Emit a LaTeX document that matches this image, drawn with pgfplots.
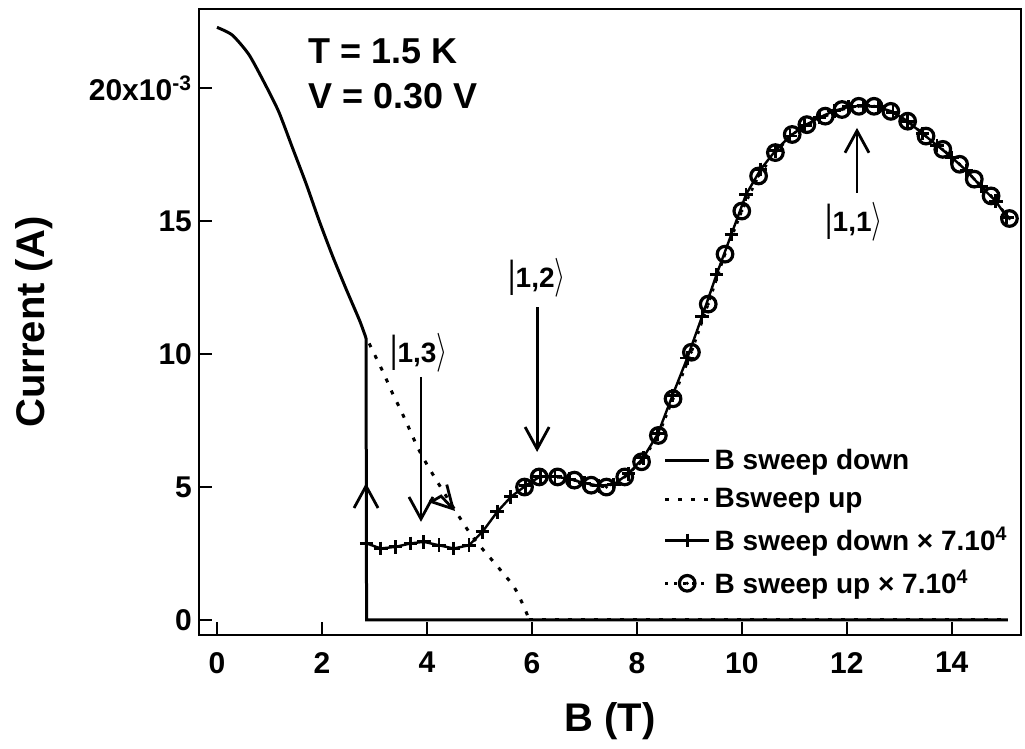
\documentclass[border=0pt]{standalone}
\usepackage{fontspec}
\setmainfont{Liberation Sans}
\usepackage{pgfplots}
\pgfplotsset{compat=1.18}
\usetikzlibrary{arrows.meta}
\pgfdeclareplotmark{odot}{%
  \pgfpathcircle{\pgfpointorigin}{\pgfplotmarksize}\pgfusepathqstroke
  \pgfpathcircle{\pgfpointorigin}{0.9pt}\pgfusepathqfill}
\tikzset{barb/.style={-{Straight Barb[length=11pt,width=12pt,line width=1.4pt]}, line width=1.4pt}}
\newcommand\ket[1]{\scalebox{1}[1.35]{\mdseries|}\mbox{\bfseries #1}\scalebox{1}[1.35]{$\rangle$}}
\begin{document}
\bfseries
\begin{tikzpicture}
\begin{axis}[
  name=ax,
  scale only axis, width=411pt, height=313pt,
  xmin=-0.343, xmax=15.32, ymin=-0.564, ymax=22.98,
  axis line style={line width=1.2pt},
  tick align=inside, tick pos=left,
  major tick length=6.5pt,
  every tick/.style={line width=1.1pt, black},
  xtick={0,2,...,14}, ytick={0,5,10,15,20},
  yticklabels={0,5,10,15,{20x10\textsuperscript{-3}}},
  /pgf/number format/assume math mode=true,
  tick label style={font=\fontsize{15}{15}\selectfont\bfseries},
  xticklabel style={yshift=-5pt},
  legend style={draw=none, fill=none, at={(0.56,0.31)}, anchor=north west,
    font=\fontsize{14}{14}\selectfont\bfseries, row sep=4pt, inner sep=2pt,
    cells={anchor=west}},
  legend image code/.code={\draw[mark repeat=2,mark phase=2,#1] plot coordinates {(0pt,0pt)(11pt,0pt)(22pt,0pt)};},
  clip=false,
]
% B sweep down
\addplot[black, line width=1.5pt, no marks, smooth, tension=0.4] coordinates {
(0,22.29)(0.29,22.0)(0.61,21.26)(0.93,20.1)(1.18,19.1)(1.44,17.75)(1.70,16.4)(1.95,15.0)(2.2,13.7)(2.46,12.45)(2.72,11.25)(2.84,10.6)};
\addlegendentry{B sweep down}
% Bsweep up
\addplot[black, line width=1.5pt, no marks, dash pattern=on 2pt off 4.5pt, smooth, tension=0.5] coordinates {
(2.90,10.4)(3.17,9.3)(3.35,8.5)(3.5,7.9)(3.65,7.25)(3.88,6.27)(4.26,5.0)(4.78,3.38)(5.03,2.74)(5.35,2.0)(5.66,1.24)(5.85,0.49)(5.95,0)};
\addlegendentry{Bsweep up}
% B sweep down x 7e4
\addplot[black, line width=1.2pt, mark=+, mark size=3.4pt, mark options={line width=1.4pt}] coordinates {
(2.85,2.88)(3.12,2.69)(3.40,2.75)(3.69,2.88)(3.94,2.94)(4.23,2.81)(4.51,2.69)(4.80,2.81)(5.06,3.32)(5.34,4.07)(5.6,4.63)
(5.88,5.05)(6.16,5.4)(6.44,5.4)(6.72,5.3)(7.0,5.15)(7.28,5.05)(7.56,5.1)(7.84,5.5)(8.12,6.1)(8.40,7.0)(8.68,8.45)(8.96,9.85)
(9.24,11.4)(9.52,13.0)(9.80,14.5)(10.08,16.0)(10.36,16.95)(10.64,17.65)(10.92,18.2)(11.20,18.6)(11.48,18.9)(11.76,19.15)
(12.04,19.3)(12.32,19.35)(12.60,19.3)(12.88,19.1)(13.16,18.75)(13.44,18.3)(13.72,17.85)(14.00,17.4)(14.28,16.9)(14.56,16.3)
(14.84,15.75)(15.05,15.15)};
\addlegendentry{B sweep down × 7.10\textsuperscript{4}}
% B sweep up x 7e4
\addplot[black, line width=1.3pt, dash pattern=on 1.5pt off 3pt, mark=odot, mark size=3.9pt, mark options={solid, line width=1.6pt}] coordinates {
(5.86,5.0)(6.14,5.38)(6.49,5.38)(6.81,5.26)(7.13,5.07)(7.42,5.0)(7.77,5.38)(8.09,5.95)(8.41,6.94)(8.69,8.32)(9.04,10.07)
(9.36,11.88)(9.68,13.76)(10.0,15.38)(10.32,16.7)(10.64,17.58)(10.96,18.26)(11.24,18.63)(11.59,18.95)(11.91,19.2)(12.23,19.32)
(12.52,19.32)(12.84,19.13)(13.16,18.76)(13.51,18.2)(13.83,17.7)(14.15,17.14)(14.43,16.58)(14.75,15.95)(15.1,15.1)};
\addlegendentry{B sweep up × 7.10\textsuperscript{4}}
% remaining parts of the plain sweeps
\addplot[black, line width=1.5pt, no marks, forget plot] coordinates {(2.84,10.6)(2.85,0)(15.07,0)};
\addplot[black, line width=1.5pt, no marks, dash pattern=on 2pt off 4.5pt, forget plot] coordinates {(5.95,0)(15.07,0)};
% annotations
\node[anchor=north west, inner sep=0pt, align=left, font=\fontsize{18}{22.5}\selectfont\bfseries] at (axis cs:1.73,21.89) {T = 1.5 K\\V = 0.30 V};
\node[inner sep=0pt, font=\fontsize{14}{14}\selectfont\bfseries] at (axis cs:3.85,10.04) {\ket{1,3}};
\node[inner sep=0pt, font=\fontsize{14}{14}\selectfont\bfseries] at (axis cs:6.10,12.86) {\ket{1,2}};
\node[inner sep=0pt, font=\fontsize{14}{14}\selectfont\bfseries] at (axis cs:12.14,14.97) {\ket{1,1}};
\draw[barb] (axis cs:3.887,9.14) -- (axis cs:3.887,3.69);
\draw[barb] (axis cs:6.10,11.77) -- (axis cs:6.10,6.32);
\draw[barb] (axis cs:12.195,16.06) -- (axis cs:12.195,18.51);
\draw[barb] (axis cs:2.84,2.82) -- (axis cs:2.84,5.15);
\draw[barb] (axis cs:4.08,4.44) -- (axis cs:4.27,4.66) -- (axis cs:4.535,4.10);
\end{axis}
\node[rotate=90, anchor=north, inner sep=0pt, font=\fontsize{20}{20}\selectfont\bfseries] at ([xshift=-92pt]ax.west) {Current (A)};
\node[anchor=north, inner sep=0pt, font=\fontsize{20}{20}\selectfont\bfseries] at ([yshift=-33.5pt]ax.south) {B (T)};
\pgfresetboundingbox
\useasboundingbox ([xshift=-99.5pt,yshift=-57pt]ax.south west) rectangle ([xshift=2pt,yshift=4.5pt]ax.north east);
\end{tikzpicture}
\end{document}
